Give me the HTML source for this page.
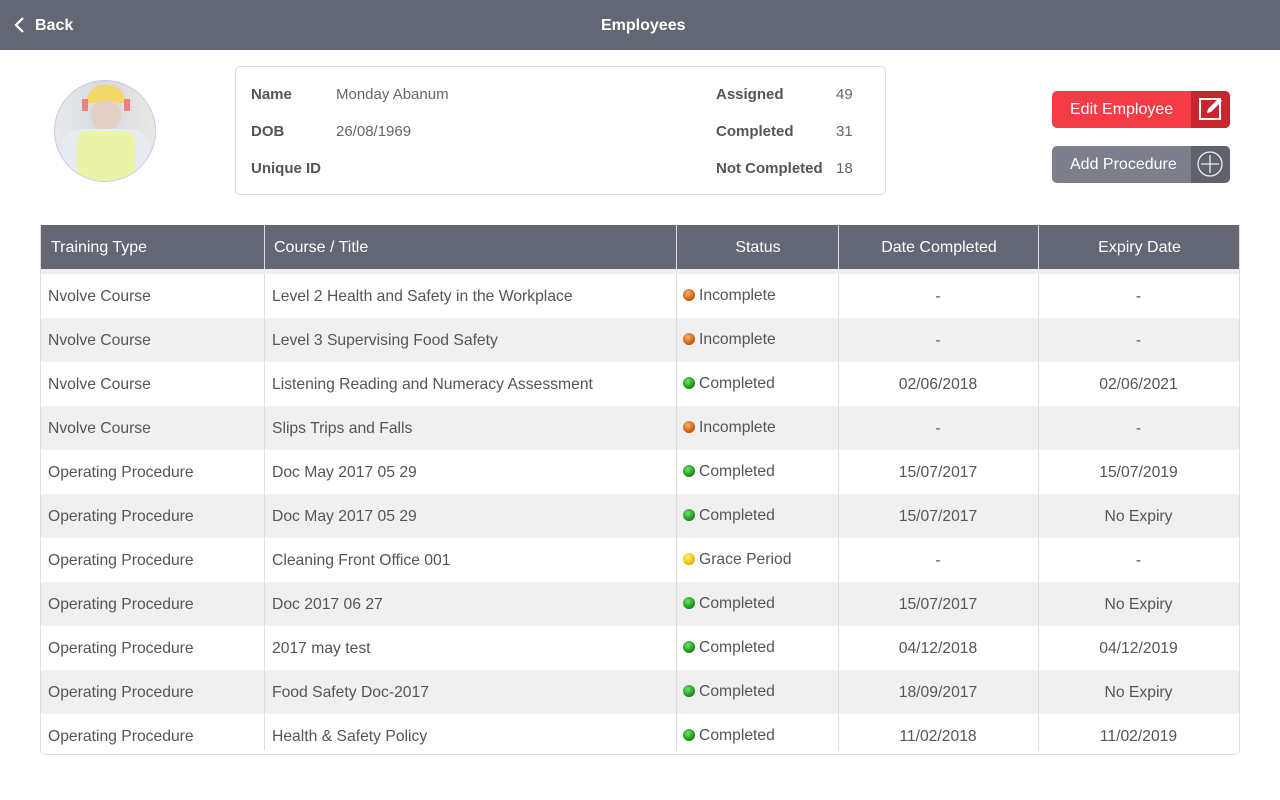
<!DOCTYPE html>
<html><head><style>
*{margin:0;padding:0;box-sizing:border-box}
body{width:1280px;height:800px;background:#fff;font-family:"Liberation Sans",sans-serif;position:relative;overflow:hidden;color:#555}
.top{position:absolute;left:0;top:0;width:1280px;height:50px;background:#636773;color:#fff;font-weight:bold;font-size:16px}
.abs{position:absolute}
.card{left:235px;top:66px;width:651px;height:129px;border:1px solid #ddd;border-radius:5px}
.lbl{font-weight:bold;font-size:15px;color:#555}
.val{font-size:15px;color:#666}
.btn{position:absolute;left:1052px;width:178px;height:37px;border-radius:5px;color:#fff;font-size:16px;overflow:hidden}
.btn span{position:absolute;left:18px;top:10px}
.btn i{position:absolute;right:0;top:0;width:39px;height:37px}
.tbl{left:40px;top:225px;width:1200px;height:530px;border:1px solid #ddd;border-top:none;border-radius:0 0 5px 5px;overflow:hidden}
.hd{position:absolute;left:0;top:0;width:1200px;height:44px;background:#636773;color:#fff;font-size:16px}
.row{position:absolute;left:0;width:1200px;height:44px;font-size:15.7px;color:#555}
.c{position:absolute;top:1px;height:44px;line-height:44px;white-space:nowrap}
.vl{position:absolute;top:0;width:1px;height:44px;background:#ddd}
.dot{display:inline-block;width:12px;height:12px;border-radius:50%;vertical-align:-1px;margin-right:4px}
.o{background:radial-gradient(circle at 40% 35%,#f5b070,#d06010 60%,#8a3a00)}
.g{background:radial-gradient(circle at 40% 35%,#6fe06f,#1a9a1a 60%,#0a5a0a)}
.y{background:radial-gradient(circle at 40% 35%,#fff27a,#e6c200 60%,#a08000)}
.r0{background:#fff}.r1{background:#f0f0f0}
</style></head><body>
<div class="top">
<svg class="abs" style="left:14px;top:16px" width="12" height="18"><polyline points="9,2 2,9 9,16" fill="none" stroke="#fff" stroke-width="2.2"/></svg>
<div class="abs" style="left:35px;top:17px">Back</div>
<div class="abs" style="left:601px;top:17px">Employees</div>
</div>
<div class="abs" style="left:54px;top:80px;width:102px;height:102px;border-radius:50%;border:1px solid #c8c8e8;background:linear-gradient(90deg,#e6e8ea,#d8dadc,#e8e8e4);overflow:hidden">
<div class="abs" style="left:32px;top:4px;width:38px;height:18px;background:#f5d66a;border-radius:19px 19px 2px 2px"></div>
<div class="abs" style="left:27px;top:18px;width:6px;height:12px;background:#f08080"></div>
<div class="abs" style="left:69px;top:18px;width:6px;height:12px;background:#f08080"></div>
<div class="abs" style="left:36px;top:20px;width:30px;height:28px;background:#e4cfc4;border-radius:12px"></div>
<div class="abs" style="left:6px;top:48px;width:90px;height:56px;background:#e8ecf2;border-radius:20px 20px 0 0"></div>
<div class="abs" style="left:22px;top:50px;width:58px;height:50px;background:#eaf3a8;border-radius:10px 10px 0 0"></div>
</div>
<div class="abs card">
<div class="abs lbl" style="left:15px;top:19px">Name</div><div class="abs val" style="left:100px;top:19px">Monday Abanum</div>
<div class="abs lbl" style="left:15px;top:56px">DOB</div><div class="abs val" style="left:100px;top:56px">26/08/1969</div>
<div class="abs lbl" style="left:15px;top:93px">Unique ID</div>
<div class="abs lbl" style="left:480px;top:19px">Assigned</div><div class="abs val" style="left:600px;top:19px">49</div>
<div class="abs lbl" style="left:480px;top:56px">Completed</div><div class="abs val" style="left:600px;top:56px">31</div>
<div class="abs lbl" style="left:480px;top:93px">Not Completed</div><div class="abs val" style="left:600px;top:93px">18</div>
</div>
<div class="btn" style="top:91px;background:#f33c45"><span>Edit Employee</span><i style="background:#c6262d"><svg width="39" height="37"><rect x="9" y="8" width="20" height="20" fill="none" stroke="#fff" stroke-width="2"/><path d="M16 22 L17 18 L28 7 L31 10 L20 21 Z" fill="#fff"/></svg></i></div>
<div class="btn" style="top:146px;background:#7a7f8b"><span>Add Procedure</span><i style="background:#5f636e"><svg width="39" height="37"><circle cx="19" cy="18" r="12" fill="none" stroke="#eee" stroke-width="1.3"/><path d="M19 9V27M10 18H28" stroke="#eee" stroke-width="1.3"/></svg></i></div>
<div class="abs tbl">
<div class="abs" style="left:0;top:44px;width:1200px;height:5px;background:#eee"></div>
<div class="hd">
<div class="c" style="left:10px">Training Type</div>
<div class="c" style="left:233px">Course / Title</div>
<div class="c" style="left:636px;width:162px;text-align:center">Status</div>
<div class="c" style="left:798px;width:200px;text-align:center">Date Completed</div>
<div class="c" style="left:998px;width:201px;text-align:center">Expiry Date</div>
</div>
<div class="vl" style="left:223px"></div><div class="vl" style="left:635px"></div><div class="vl" style="left:797px"></div><div class="vl" style="left:997px"></div>
</div>
<div class="abs" style="left:41px;top:274px;width:1198px;height:476px;overflow:hidden">
<div class="row r0" style="top:0"><div class="c" style="left:7px">Nvolve Course</div><div class="c" style="left:231px">Level 2 Health and Safety in the Workplace</div><div class="c" style="left:642px;line-height:42px"><span class="dot o"></span>Incomplete</div><div class="c" style="left:797px;width:200px;text-align:center">-</div><div class="c" style="left:997px;width:201px;text-align:center">-</div></div>
<div class="row r1" style="top:44px"><div class="c" style="left:7px">Nvolve Course</div><div class="c" style="left:231px">Level 3 Supervising Food Safety</div><div class="c" style="left:642px;line-height:42px"><span class="dot o"></span>Incomplete</div><div class="c" style="left:797px;width:200px;text-align:center">-</div><div class="c" style="left:997px;width:201px;text-align:center">-</div></div>
<div class="row r0" style="top:88px"><div class="c" style="left:7px">Nvolve Course</div><div class="c" style="left:231px">Listening Reading and Numeracy Assessment</div><div class="c" style="left:642px;line-height:42px"><span class="dot g"></span>Completed</div><div class="c" style="left:797px;width:200px;text-align:center">02/06/2018</div><div class="c" style="left:997px;width:201px;text-align:center">02/06/2021</div></div>
<div class="row r1" style="top:132px"><div class="c" style="left:7px">Nvolve Course</div><div class="c" style="left:231px">Slips Trips and Falls</div><div class="c" style="left:642px;line-height:42px"><span class="dot o"></span>Incomplete</div><div class="c" style="left:797px;width:200px;text-align:center">-</div><div class="c" style="left:997px;width:201px;text-align:center">-</div></div>
<div class="row r0" style="top:176px"><div class="c" style="left:7px">Operating Procedure</div><div class="c" style="left:231px">Doc May 2017 05 29</div><div class="c" style="left:642px;line-height:42px"><span class="dot g"></span>Completed</div><div class="c" style="left:797px;width:200px;text-align:center">15/07/2017</div><div class="c" style="left:997px;width:201px;text-align:center">15/07/2019</div></div>
<div class="row r1" style="top:220px"><div class="c" style="left:7px">Operating Procedure</div><div class="c" style="left:231px">Doc May 2017 05 29</div><div class="c" style="left:642px;line-height:42px"><span class="dot g"></span>Completed</div><div class="c" style="left:797px;width:200px;text-align:center">15/07/2017</div><div class="c" style="left:997px;width:201px;text-align:center">No Expiry</div></div>
<div class="row r0" style="top:264px"><div class="c" style="left:7px">Operating Procedure</div><div class="c" style="left:231px">Cleaning Front Office 001</div><div class="c" style="left:642px;line-height:42px"><span class="dot y"></span>Grace Period</div><div class="c" style="left:797px;width:200px;text-align:center">-</div><div class="c" style="left:997px;width:201px;text-align:center">-</div></div>
<div class="row r1" style="top:308px"><div class="c" style="left:7px">Operating Procedure</div><div class="c" style="left:231px">Doc 2017 06 27</div><div class="c" style="left:642px;line-height:42px"><span class="dot g"></span>Completed</div><div class="c" style="left:797px;width:200px;text-align:center">15/07/2017</div><div class="c" style="left:997px;width:201px;text-align:center">No Expiry</div></div>
<div class="row r0" style="top:352px"><div class="c" style="left:7px">Operating Procedure</div><div class="c" style="left:231px">2017 may test</div><div class="c" style="left:642px;line-height:42px"><span class="dot g"></span>Completed</div><div class="c" style="left:797px;width:200px;text-align:center">04/12/2018</div><div class="c" style="left:997px;width:201px;text-align:center">04/12/2019</div></div>
<div class="row r1" style="top:396px"><div class="c" style="left:7px">Operating Procedure</div><div class="c" style="left:231px">Food Safety Doc-2017</div><div class="c" style="left:642px;line-height:42px"><span class="dot g"></span>Completed</div><div class="c" style="left:797px;width:200px;text-align:center">18/09/2017</div><div class="c" style="left:997px;width:201px;text-align:center">No Expiry</div></div>
<div class="row r0" style="top:440px"><div class="c" style="left:7px">Operating Procedure</div><div class="c" style="left:231px">Health &amp; Safety Policy</div><div class="c" style="left:642px;line-height:42px"><span class="dot g"></span>Completed</div><div class="c" style="left:797px;width:200px;text-align:center">11/02/2018</div><div class="c" style="left:997px;width:201px;text-align:center">11/02/2019</div></div>
<div class="abs" style="left:223px;top:0;width:1px;height:476px;background:#ddd"></div>
<div class="abs" style="left:635px;top:0;width:1px;height:476px;background:#ddd"></div>
<div class="abs" style="left:797px;top:0;width:1px;height:476px;background:#ddd"></div>
<div class="abs" style="left:997px;top:0;width:1px;height:476px;background:#ddd"></div>
</div>
</body></html>
